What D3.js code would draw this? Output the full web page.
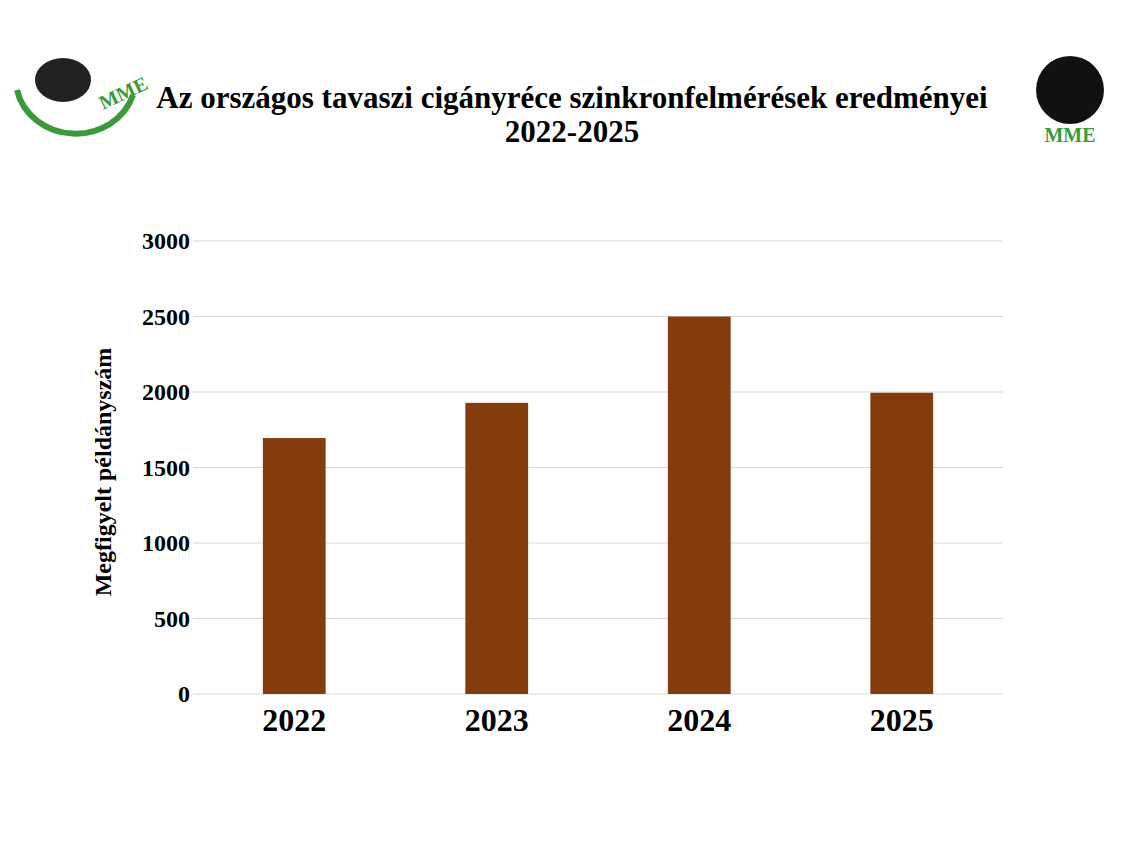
<!DOCTYPE html>
<html><head><meta charset="utf-8">
<script src="https://cdn.jsdelivr.net/npm/d3@7"></script>
<style>body{margin:0;background:#fff}</style></head>
<body><svg id="c" width="1140" height="855"></svg>
<script>
const categories = ["2022","2023","2024","2025"];
const values = [1695, 1928, 2500, 1995];
const yTicks = [0,500,1000,1500,2000,2500,3000];
const titleLines = ["Az országos tavaszi cigányréce szinkronfelmérések eredményei","2022-2025"];
const yLabel = "Megfigyelt példányszám";

const svg = d3.select("#c");
const font = "'Liberation Serif','Times New Roman',serif";
const x = d3.scaleBand().domain(categories).range([193,1003]).paddingInner(0.69).paddingOuter(0.345);
const y = d3.scaleLinear().domain([0,3000]).range([694,241]);

svg.append("g").selectAll("line").data(yTicks).join("line")
  .attr("x1",193).attr("x2",1003).attr("y1",d=>y(d)).attr("y2",d=>y(d))
  .attr("stroke","#d9d9d9").attr("stroke-width",1);
svg.append("g").selectAll("text").data(yTicks).join("text")
  .attr("x",190).attr("y",d=>y(d)+8).attr("text-anchor","end")
  .attr("font-family",font).attr("font-weight","bold").attr("font-size",24).text(d=>d);
svg.append("g").selectAll("rect").data(values).join("rect")
  .attr("x",(d,i)=>x(categories[i])).attr("width",x.bandwidth())
  .attr("y",d=>y(d)).attr("height",d=>y(0)-y(d)).attr("fill","#843c0c");
svg.append("g").selectAll("text").data(categories).join("text")
  .attr("x",d=>x(d)+x.bandwidth()/2).attr("y",731).attr("text-anchor","middle")
  .attr("font-family",font).attr("font-weight","bold").attr("font-size",32).text(d=>d);
svg.append("text").attr("transform","translate(111,472) rotate(-90)").attr("text-anchor","middle")
  .attr("font-family",font).attr("font-weight","bold").attr("font-size",24).text(yLabel);
svg.selectAll(".t").data(titleLines).join("text").attr("class","t")
  .attr("x",572).attr("y",(d,i)=>108+i*34).attr("text-anchor","middle")
  .attr("font-family",font).attr("font-weight","bold").attr("font-size",31).text(d=>d);

// simple logos
const l1 = svg.append("g").attr("transform","translate(75,90)");
l1.append("path").attr("d","M-58,0 A60,55 0 0 0 58,5").attr("fill","none").attr("stroke","#3a9a3a").attr("stroke-width",6);
l1.append("ellipse").attr("cx",-12).attr("cy",-10).attr("rx",28).attr("ry",22).attr("fill","#222");
l1.append("text").attr("x",28).attr("y",20).attr("font-family",font).attr("font-weight","bold").attr("font-size",20).attr("fill","#3a9a3a").attr("transform","rotate(-25,28,20)").text("MME");
const l2 = svg.append("g").attr("transform","translate(1070,100)");
l2.append("ellipse").attr("cx",0).attr("cy",-10).attr("rx",34).attr("ry",34).attr("fill","#111");
l2.append("text").attr("x",0).attr("y",42).attr("text-anchor","middle").attr("font-family",font).attr("font-weight","bold").attr("font-size",20).attr("fill","#3a9a3a").text("MME");
</script></body></html>
